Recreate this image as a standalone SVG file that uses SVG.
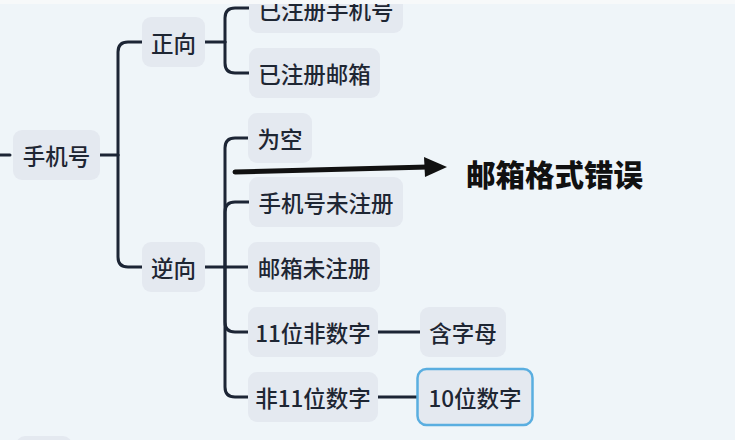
<svg xmlns="http://www.w3.org/2000/svg" width="735" height="440" viewBox="0 0 735 440">
<style>
.bg{fill:#eff5f9}
.node rect{fill:#e4e9f0}
.node text{font-family:"Noto Sans CJK SC","Noto Sans",sans-serif;font-size:22.5px;font-weight:500;fill:#1e2633;text-anchor:middle;dominant-baseline:central}
.conn path{fill:none;stroke:#1c2535;stroke-width:3;stroke-linecap:round}
.note{font-family:"Noto Sans CJK SC","Noto Sans",sans-serif;font-size:29.5px;font-weight:900;fill:#111}
</style>
<rect class="bg" x="0" y="0" width="735" height="440"/>
<g class="conn">
<path d="M0 155 H10"/>
<path d="M100 155 H118"/>
<path d="M118 155 V52 Q118 42 128 42 H142"/>
<path d="M118 155 V257 Q118 267 128 267 H142"/>
<path d="M205 42 H225"/>
<path d="M225 42 V18 Q225 8 235 8 H249"/>
<path d="M225 42 V63 Q225 73 235 73 H249"/>
<path d="M205 267 H248"/>
<path d="M225 267 V148 Q225 138 235 138 H248"/>
<path d="M225 267 V212 Q225 202 235 202 H249"/>
<path d="M225 267 V322 Q225 332 235 332 H248"/>
<path d="M225 267 V387 Q225 397 235 397 H248"/>
<path d="M378 332 H420"/>
<path d="M378 397 H420"/>
</g>
<g id="n-phone" class="node"><rect x="13" y="130" width="87" height="50" rx="9"/><text x="56.5" y="155">手机号</text></g>
<g id="n-pos" class="node"><rect x="142" y="17" width="63" height="50" rx="9"/><text x="173.5" y="42">正向</text></g>
<g id="n-neg" class="node"><rect x="142" y="242" width="63" height="50" rx="9"/><text x="173.5" y="267">逆向</text></g>
<g id="n-regphone" class="node"><rect x="249" y="-17" width="154" height="50" rx="9"/><text x="326" y="9">已注册手机号</text></g>
<g id="n-regmail" class="node"><rect x="249" y="48" width="131" height="50" rx="9"/><text x="314.5" y="73">已注册邮箱</text></g>
<g id="n-empty" class="node"><rect x="248" y="113" width="64" height="50" rx="9"/><text x="280" y="138">为空</text></g>
<g id="n-phoneunreg" class="node"><rect x="249" y="177" width="154" height="50" rx="9"/><text x="326" y="202">手机号未注册</text></g>
<g id="n-mailunreg" class="node"><rect x="248" y="242" width="132" height="50" rx="9"/><text x="314" y="267">邮箱未注册</text></g>
<g id="n-11nondigit" class="node"><rect x="248" y="307" width="130" height="50" rx="9"/><text x="313" y="332">11位非数字</text></g>
<g id="n-letters" class="node"><rect x="420" y="307" width="86" height="50" rx="9"/><text x="463" y="332">含字母</text></g>
<g id="n-non11" class="node"><rect x="248" y="372" width="130" height="50" rx="9"/><text x="313" y="397">非11位数字</text></g>
<g id="n-10digit" class="node"><rect x="417.5" y="369" width="115" height="56" rx="9" style="stroke:#5aaee0;stroke-width:2.5"/><text x="475" y="397">10位数字</text></g>
<g id="n-cut" class="node"><rect x="16" y="436" width="56" height="30" rx="9"/></g>
<rect x="0" y="0" width="735" height="4" fill="#f7f9fa"/>
<g id="annotation">
<path d="M235 172 L428 167" fill="none" stroke="#111" stroke-width="5" stroke-linecap="round"/>
<polygon points="447,167 424,157 425,177" fill="#111"/>
<text class="note" x="466" y="173" dominant-baseline="central">邮箱格式错误</text>
</g>
</svg>
